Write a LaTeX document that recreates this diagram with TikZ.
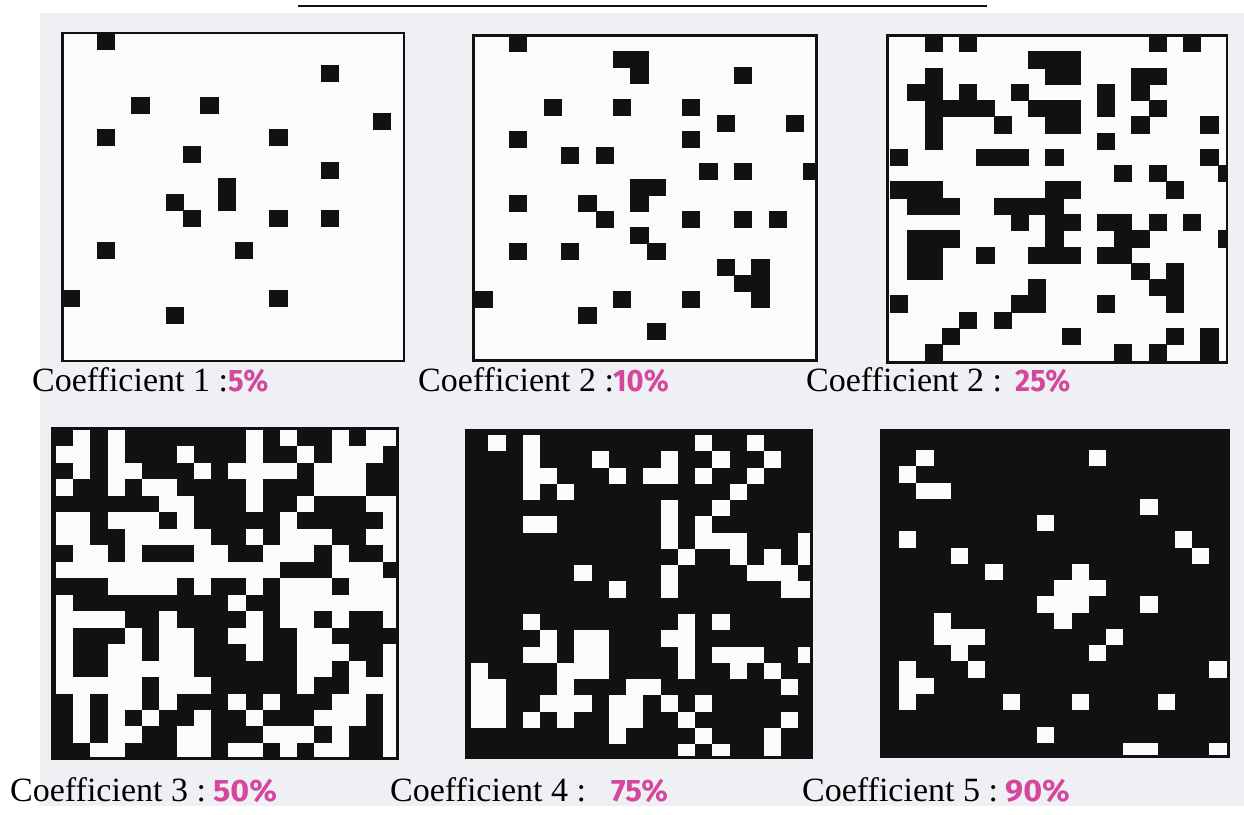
\documentclass[tikz,border=0pt]{standalone}
\usepackage{fontspec}
\setmainfont{Liberation Serif}
\newfontfamily\pctfont{Fira Sans}
\definecolor{pagebg}{HTML}{EEF0F3}
\definecolor{paper}{HTML}{FBFBFB}
\definecolor{ink}{HTML}{111111}
\definecolor{pct}{HTML}{D4479D}
\newcommand\pcttext[2][0.94]{\scalebox{#1}[1]{#2}}
\begin{document}
\begin{tikzpicture}[x=1pt,y=-1pt,
  captxt/.style={inner sep=0pt,anchor=base west,font=\fontsize{34}{40}\selectfont},
  pctlab/.style={inner sep=0pt,anchor=base west,text=pct,font=\pctfont\bfseries\fontsize{31}{36}\selectfont},
  boxline/.style={draw=ink,line width=2.6pt},
  blk/.style={fill=ink},
  wht/.style={fill=paper}]
\useasboundingbox (0,0) rectangle (1244,814);
\fill[white] (0,0) rectangle (1244,814);
\fill[pagebg] (40,13) rectangle (1244,806);
% top underline (cut-off title)
\draw[ink,line width=1.6pt] (298,6) -- (987,6);

% ---------- Grid 1 : 5% ----------
\begin{scope}
\clip (62.7,33) rectangle (404,361);
\fill[paper] (62.7,33) rectangle (404,361);
\begin{scope}[shift={(62.7,33.3)},x=17.26pt,y=-16.1pt]
\foreach \c/\r in {2/0,15/2,4/4,8/4,18/5,2/6,12/6,7/7,15/8,9/9,9/10,6/10,7/11,12/11,15/11,2/13,10/13,0/16,12/16,6/17}
  \fill[blk] (\c-0.03,\r-0.03) rectangle (\c+1.03,\r+1.03);
\end{scope}
\end{scope}
\draw[boxline] (62.7,33) rectangle (404,361);

% ---------- Grid 2 : 10% ----------
\begin{scope}
\clip (473.3,35.7) rectangle (816.7,360.7);
\fill[paper] (473.3,35.7) rectangle (816.7,360.7);
\begin{scope}[shift={(475,35.7)},x=17.3pt,y=-16pt]
\foreach \c/\r in {2/0,8/1,9/1,9/2,15/2,4/4,8/4,12/4,14/5,18/5,2/6,12/6,5/7,7/7,13/8,15/8,19/8,9/9,10/9,9/10,2/10,6/10,7/11,12/11,15/11,17/11,9/12,10/13,2/13,5/13,14/14,16/14,15/15,16/15,16/16,0/16,8/16,12/16,6/17,10/18}
  \fill[blk] (\c-0.03,\r-0.03) rectangle (\c+1.03,\r+1.03);
\end{scope}
\end{scope}
\draw[boxline] (473.3,35.7) rectangle (816.7,360.7);

% ---------- Grid 3 : 25% ----------
\begin{scope}
\clip (887.3,35.7) rectangle (1227,362.7);
\fill[paper] (887.3,35.7) rectangle (1227,362.7);
\begin{scope}[shift={(890.7,35.5)},x=17.23pt,y=-16.27pt]
\foreach \r/\cols in {0/{2,4,15,17},1/{8,9,10},2/{2,9,10,14,15},3/{1,2,4,7,12,14},
  4/{2,3,4,5,8,9,10,12,15},5/{2,6,9,10,14,18},6/{2,12},7/{0,5,6,7,9,18},
  8/{13,15,19},9/{0,1,2,9,10,16},10/{1,2,3,6,7,8,9},11/{7,9,10,12,13,15,17},
  12/{1,2,3,9,13,14,19},13/{1,2,5,8,9,10,12,13},14/{1,2,14,16},15/{8,15,16},
  16/{0,7,8,12,16},17/{4,6},18/{3,10,16,18},19/{2,13,15,18}}
  \foreach \c in \cols
    \fill[blk] (\c-0.03,\r-0.03) rectangle (\c+1.03,\r+1.03);
\end{scope}
\end{scope}
\draw[boxline] (887.3,35.7) rectangle (1227,362.7);

% ---------- Grid 4 : 50% ----------
\begin{scope}
\clip (52.7,428.3) rectangle (397.3,758.3);
\fill[ink] (52.7,428.3) rectangle (397.3,758.3);
\begin{scope}[shift={(56,430)},x=17.23pt,y=-16.47pt]
\foreach \r/\cols in {0/{1,3,11,13,16,18,19},1/{0,1,3,7,11,14,16,17,18},
  2/{1,3,4,8,10,11,12,13,15,16,17},3/{0,3,5,6,11,15,16,17},4/{6,7,11,14,18,19},
  5/{0,1,3,4,5,7,13,19},6/{0,1,4,5,6,7,8,11,13,14,15,18,19},7/{1,2,4,8,9,12,13,14,16,19},
  8/{0,1,2,3,4,5,6,7,8,9,10,11,12,16,17,18},9/{3,4,5,6,8,11,13,14,15,17,18,19},
  10/{0,10,13,14,15,16,17,18,19},11/{0,1,2,3,6,11,13,14,16,19},12/{0,4,6,7,10,11,14,15},
  13/{0,3,4,6,7,11,14,15,16,19},14/{0,3,4,5,6,7,14,15,17,19},15/{0,1,2,3,4,6,7,8,14,17,18,19},
  16/{1,3,4,6,10,12,16,17,19},17/{1,3,5,8,11,15,16,17,19},18/{1,3,4,7,8,12,13,14,16,19},
  19/{2,3,7,8,10,11,13,15,16,19}}
  \foreach \c in \cols
    \fill[wht] (\c,\r) rectangle (\c+1,\r+1);
\end{scope}
\end{scope}
\draw[boxline] (52.7,428.3) rectangle (397.3,758.3);

% ---------- Grid 5 : 75% ----------
\begin{scope}
\clip (466,430) rectangle (811.7,757.3);
\fill[ink] (466,430) rectangle (811.7,757.3);
\begin{scope}[shift={(471.1,435)},x=17.23pt,y=-16.27pt]
\foreach \r/\cols in {0/{1,3,13,16},1/{3,7,11,14,17},2/{3,4,8,10,11,13,16},3/{3,5,15},
  4/{11,14},5/{3,4,11,13},6/{11,13,14,15,19},7/{12,15,17,19},8/{6,11,16,17,18},
  9/{8,11,18,19},11/{3,12,14},12/{4,6,7,11,12},13/{3,4,6,7,12,14,15,16,19},
  14/{0,5,6,7,12,15,17},15/{0,1,5,9,10,18},16/{0,1,4,5,6,8,9,11,13},
  17/{0,1,3,5,8,9,12,18},18/{8,13,17},19/{12,14,17}}
  \foreach \c in \cols
    \fill[wht] (\c,\r) rectangle (\c+1,\r+1);
\end{scope}
\end{scope}
\draw[boxline] (466,430) rectangle (811.7,757.3);

% ---------- Grid 6 : 90% ----------
\begin{scope}
\clip (881,430) rectangle (1228.3,756.7);
\fill[ink] (881,430) rectangle (1228.3,756.7);
\begin{scope}[shift={(882,433.7)},x=17.23pt,y=-16.27pt]
\foreach \r/\cols in {1/{2,12},2/{1},3/{2,3},4/{15},5/{9},6/{1,17},7/{4,18},8/{6,11},
  9/{10,11,12},10/{9,10,11,15},11/{3,10},12/{3,4,5,13},13/{4,12},14/{1,5,19},
  15/{1,2},16/{1,7,11,16},18/{9},19/{14,15,19}}
  \foreach \c in \cols
    \fill[wht] (\c,\r) rectangle (\c+1,\r+1);
\end{scope}
\end{scope}
\draw[boxline] (881,430) rectangle (1228.3,756.7);

% ---------- captions ----------
\node[captxt] (c1) at (32,391) {Coefficient 1 :};
\node[pctlab] (p1) at (228,391) {\pcttext{5\%}};
\node[captxt] (c2) at (418,391) {Coefficient 2 :};
\node[pctlab] (p2) at (613,391) {\pcttext{10\%}};
\node[captxt] (c3) at (806,391) {Coefficient 2 :};
\node[pctlab] (p3) at (1015,391) {\pcttext{25\%}};
\node[captxt] (c4) at (10,801) {Coefficient 3 :};
\node[pctlab] (p4) at (213,801) {\pcttext[1.04]{50\%}};
\node[captxt] (c5) at (390,801) {Coefficient 4 :};
\node[pctlab] (p5) at (611,801) {\pcttext[1.0]{75\%}};
\node[captxt] (c6) at (802,801) {Coefficient 5 :};
\node[pctlab] (p6) at (1005,801) {\pcttext[1.04]{90\%}};
\end{tikzpicture}
\end{document}
